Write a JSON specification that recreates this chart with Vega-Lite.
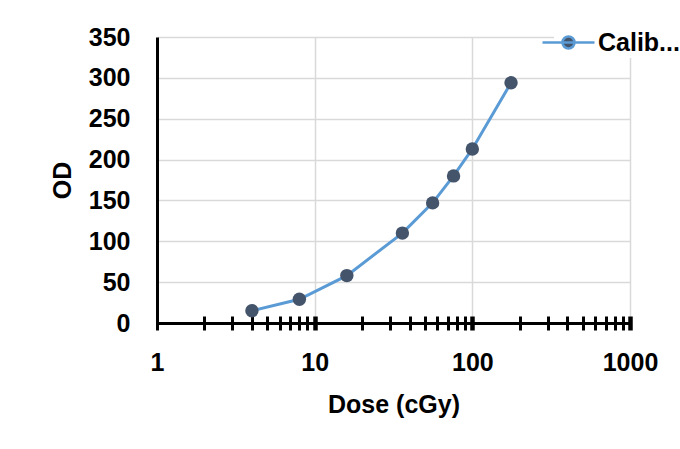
{
  "$schema": "https://vega.github.io/schema/vega-lite/v6.json",
  "width": 473,
  "height": 286,
  "autosize": "none",
  "padding": {"left": 157, "top": 37, "right": 50, "bottom": 126},
  "background": "white",
  "config": {"view": {"stroke": null}, "font": "Liberation Sans"},
  "data": {
    "values": [
      {"dose": 4, "od": 15, "series": "Calib..."},
      {"dose": 8, "od": 29, "series": "Calib..."},
      {"dose": 16, "od": 58, "series": "Calib..."},
      {"dose": 36, "od": 110, "series": "Calib..."},
      {"dose": 56, "od": 147, "series": "Calib..."},
      {"dose": 76, "od": 180, "series": "Calib..."},
      {"dose": 100, "od": 213, "series": "Calib..."},
      {"dose": 176, "od": 294, "series": "Calib..."}
    ]
  },
  "encoding": {
    "x": {
      "field": "dose",
      "type": "quantitative",
      "scale": {"type": "log", "domain": [1, 1000]},
      "axis": {
        "title": "Dose (cGy)",
        "values": [1, 2, 3, 4, 5, 6, 7, 8, 9, 10, 20, 30, 40, 50, 60, 70, 80, 90, 100, 200, 300, 400, 500, 600, 700, 800, 900, 1000],
        "labelExpr": "indexof([1,10,100,1000], datum.value) >= 0 ? format(datum.value, 'd') : ''",
        "labelFontSize": 25,
        "labelFontWeight": "bold",
        "labelColor": "black",
        "labelPadding": 20,
        "labelFlush": false,
        "labelOverlap": false,
        "labelBound": false,
        "offset": -7,
        "domain": false,
        "tickSize": 14,
        "tickWidth": {"condition": {"test": "datum.value == 10 || datum.value == 100 || datum.value == 1000", "value": 4.5}, "value": 3},
        "tickColor": "black",
        "grid": true,
        "gridColor": "#d9d9d9",
        "gridWidth": 1.5,
        "gridOpacity": {"condition": {"test": "datum.value == 10 || datum.value == 100 || datum.value == 1000", "value": 1}, "value": 0},
        "titleFontSize": 25,
        "titleFontWeight": "bold",
        "titleColor": "black",
        "titleY": 76,
        "titleBaseline": "top"
      }
    },
    "y": {
      "field": "od",
      "type": "quantitative",
      "scale": {"domain": [0, 350], "nice": false},
      "axis": {
        "title": "OD",
        "values": [0, 50, 100, 150, 200, 250, 300, 350],
        "domainColor": "black",
        "domainWidth": 3,
        "ticks": false,
        "labelPadding": 27,
        "labelFontSize": 25,
        "labelFontWeight": "bold",
        "labelColor": "black",
        "labelFlush": false,
        "grid": true,
        "gridColor": {"condition": {"test": "datum.value == 0", "value": "black"}, "value": "#d9d9d9"},
        "gridWidth": {"condition": {"test": "datum.value == 0", "value": 3}, "value": 1.5},
        "titleFontSize": 25,
        "titleFontWeight": "bold",
        "titleColor": "black",
        "titleX": -87,
        "titleBaseline": "alphabetic"
      }
    }
  },
  "layer": [
    {
      "mark": {"type": "line", "strokeWidth": 3},
      "encoding": {
        "color": {
          "field": "series",
          "type": "nominal",
          "scale": {"range": ["#5b9bd5"]},
          "legend": {
            "title": null,
            "orient": "none",
            "legendX": 397,
            "legendY": -9,
            "symbolType": "M-2.6,0L2.6,0M-0.6,0A0.6,0.6,0,1,0,0.6,0A0.6,0.6,0,1,0,-0.6,0Z",
            "symbolSize": 400,
            "symbolStrokeWidth": 3,
            "labelFontSize": 25,
            "labelFontWeight": "bold",
            "labelColor": "black",
            "labelOffset": 17,
            "labelLimit": 200,
            "fillColor": "white",
            "padding": 2,
            "encode": {
              "symbols": {
                "update": {
                  "fill": {"value": "#44546a"},
                  "stroke": {"value": "#5b9bd5"},
                  "strokeWidth": {"value": 2.5},
                  "opacity": {"value": 1}
                }
              }
            }
          }
        }
      }
    },
    {
      "mark": {"type": "point", "filled": true, "size": 180, "color": "#44546a", "opacity": 1}
    }
  ]
}
